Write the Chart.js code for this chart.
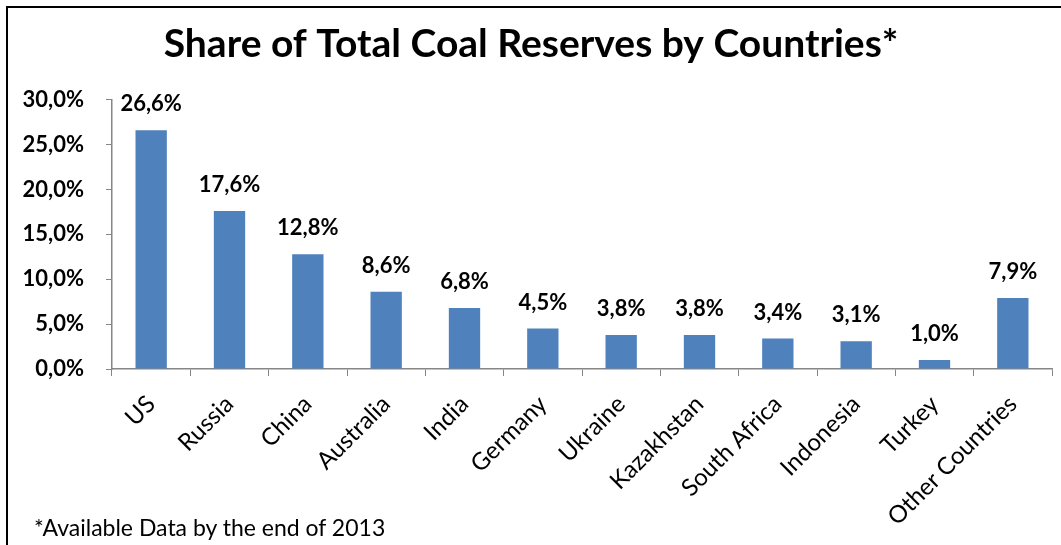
<!DOCTYPE html>
<html>
<head>
<meta charset="utf-8">
<script src="https://cdn.jsdelivr.net/npm/chart.js@4"></script>
<style>
  html, body { margin: 0; padding: 0; background: #fff; }
  #wrap { position: relative; width: 1061px; height: 545px; overflow: hidden; }
  #frame { position: absolute; left: 6px; top: 6px; right: -10px; bottom: -10px;
           border-top: 2px solid #000; border-left: 2px solid #000; pointer-events: none; }
  #chart { position: absolute; left: 0; top: 0; }
  #note { position: absolute; left: 34px; top: 513px; font-family: Lato, "Open Sans", sans-serif;
          font-size: 23px; color: #000; }
</style>
</head>
<body>
<div id="wrap">
  <canvas id="chart" width="1061" height="545"></canvas>
  <div id="frame"></div>
  <div id="note">*Available Data by the end of 2013</div>
</div>
<script>
// datos del gráfico
const countries = ['US', 'Russia', 'China', 'Australia', 'India', 'Germany', 'Ukraine',
                   'Kazakhstan', 'South Africa', 'Indonesia', 'Turkey', 'Other Countries'];
const shares = [26.6, 17.6, 12.8, 8.6, 6.8, 4.5, 3.8, 3.8, 3.4, 3.1, 1.0, 7.9];
const yTicks = [0, 5, 10, 15, 20, 25, 30];

const fontFamily = 'Lato, "Open Sans", sans-serif';

function fmt(v) {
    return v.toFixed(1).replace('.', ',') + '%';
}

// etiquetas encima de las barras
const valueLabels = {
    id: 'valueLabels',
    afterDatasetsDraw(chart) {
        const ctx = chart.ctx;
        const meta = chart.getDatasetMeta(0);
        ctx.save();
        ctx.font = 'bold 22px ' + fontFamily;
        ctx.fillStyle = '#000';
        ctx.textAlign = 'center';
        ctx.textBaseline = 'middle';
        meta.data.forEach((bar, i) => {
            ctx.fillText(fmt(shares[i]), bar.x, bar.y - 26);
        });
        ctx.restore();
    }
};

new Chart(document.getElementById('chart'), {
    type: 'bar',
    data: {
        labels: countries,
        datasets: [{
            data: shares,
            backgroundColor: '#4F81BD',
            borderWidth: 0,
            barPercentage: 0.4,
            categoryPercentage: 1
        }]
    },
    options: {
        responsive: false,
        devicePixelRatio: 1,
        animation: false,
        layout: {
            padding: { top: 10, left: 10, right: 9, bottom: 0 }
        },
        plugins: {
            legend: { display: false },
            tooltip: { enabled: false },
            title: {
                display: true,
                text: 'Share of Total Coal Reserves by Countries*',
                color: '#000',
                font: { family: fontFamily, size: 39, weight: 'bold' },
                padding: { top: 11, bottom: 32 }
            }
        },
        scales: {
            x: {
                grid: {
                    offset: true,
                    drawOnChartArea: false,
                    tickLength: 7,
                    color: '#868686'
                },
                border: { color: '#868686', width: 1.5 },
                ticks: {
                    color: '#000',
                    font: { family: fontFamily, size: 24 },
                    minRotation: 45,
                    maxRotation: 45,
                    autoSkip: false,
                    padding: 14
                },
                afterFit(scale) { scale.height = 176; }
            },
            y: {
                min: 0,
                max: 30,
                afterBuildTicks(scale) {
                    scale.ticks = yTicks.map(v => ({ value: v }));
                },
                grid: {
                    drawOnChartArea: false,
                    tickLength: 6,
                    color: '#868686'
                },
                border: { color: '#868686', width: 1.5 },
                ticks: {
                    color: '#000',
                    font: { family: fontFamily, size: 22, weight: 'bold' },
                    padding: 22,
                    callback: v => fmt(v)
                },
                afterFit(scale) { scale.width = 102; }
            }
        }
    },
    plugins: [valueLabels]
});
</script>
</body>
</html>
